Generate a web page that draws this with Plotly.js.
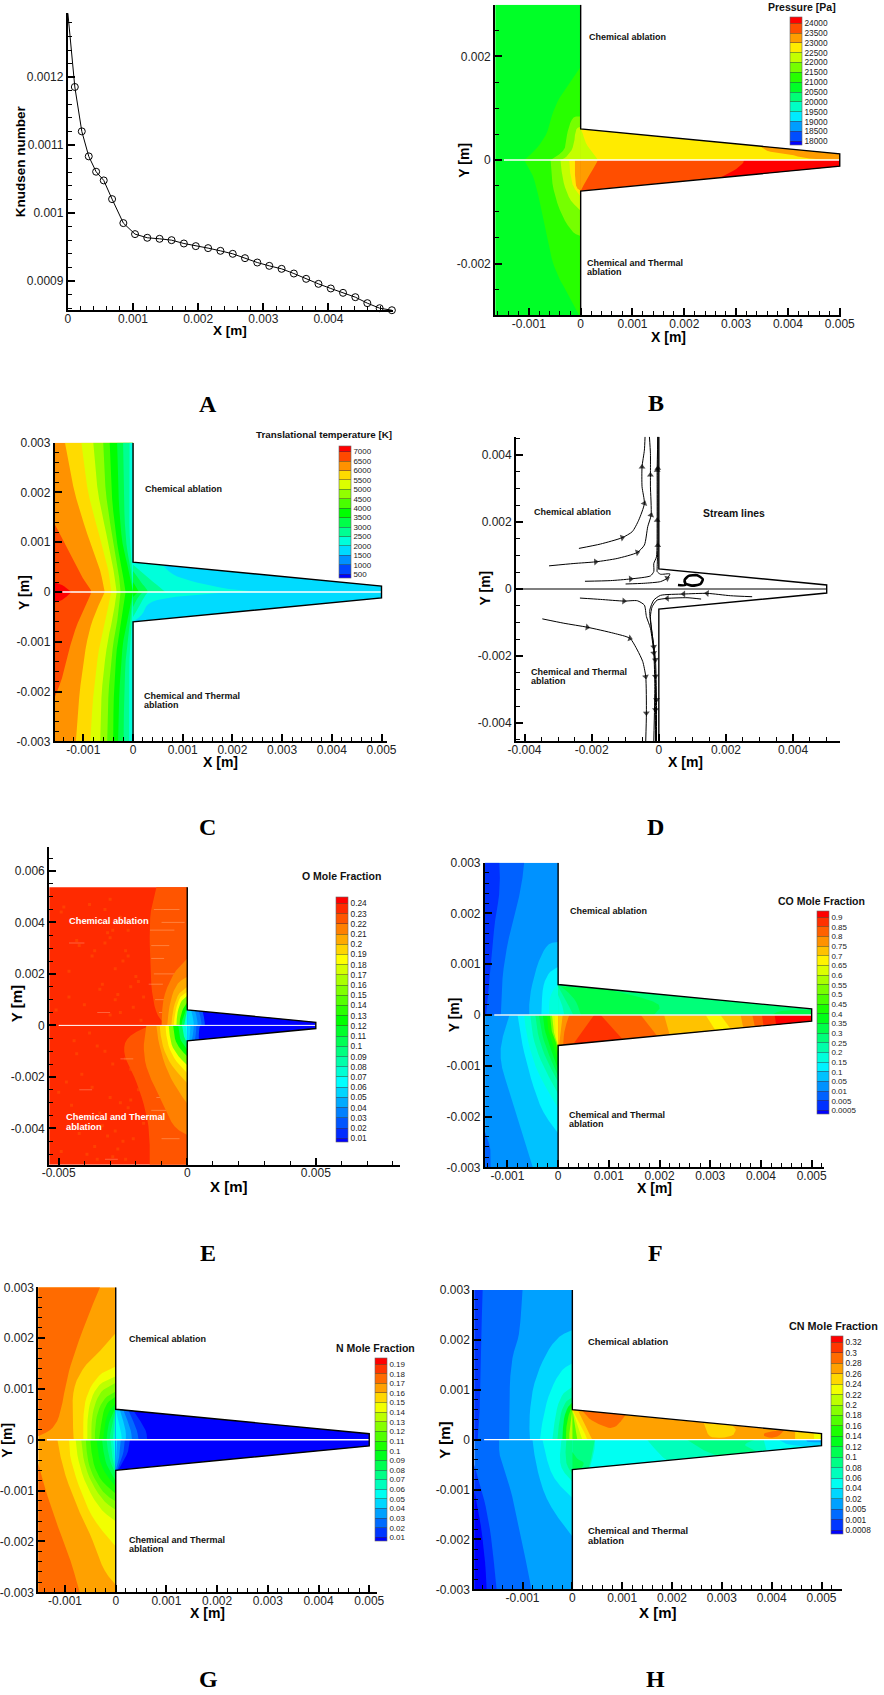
<!DOCTYPE html>
<html><head><meta charset="utf-8">
<script src="https://cdn.plot.ly/plotly-3.0.1.min.js"></script>
<style>html,body{margin:0;padding:0;background:#fff}#g{width:884px;height:1695px}</style></head>
<body><div id="g"></div>
<script>
// ---------- Data (lengths in mm unless stated; converted to metres when plotted) ----------
const knudsenX=[0,.107,.214,.321,.434,.551,.679,.852,1.031,1.219,1.408,1.592,1.781,1.964,2.153,2.342,2.531,2.719,2.908,3.092,3.281,3.469,3.658,3.847,4.036,4.224,4.413,4.597,4.786,4.974];
const knudsenY=[1.2946,1.1856,1.1203,1.0835,1.0609,1.0481,1.0206,.9853,.9691,.9637,.9622,.9602,.9553,.9514,.9485,.9445,.9401,.9337,.9273,.9224,.918,.9111,.9033,.8959,.8891,.8827,.8763,.8675,.8601,.8571];

const pressureLabels=['24000','23500','23000','22500','22000','21500','21000','20500','20000','19500','19000','18500','18000'];
const temperatureLabels=['7000','6500','6000','5500','5000','4500','4000','3500','3000','2500','2000','1500','1000','500'];
const oLabels=['0.24','0.23','0.22','0.21','0.2','0.19','0.18','0.17','0.16','0.15','0.14','0.13','0.12','0.11','0.1','0.09','0.08','0.07','0.06','0.05','0.04','0.03','0.02','0.01'];
const coLabels=['0.9','0.85','0.8','0.75','0.7','0.65','0.6','0.55','0.5','0.45','0.4','0.35','0.3','0.25','0.2','0.15','0.1','0.05','0.01','0.005','0.0005'];
const nLabels=['0.19','0.18','0.17','0.16','0.15','0.14','0.13','0.12','0.11','0.1','0.09','0.08','0.07','0.06','0.05','0.04','0.03','0.02','0.01'];
const cnLabels=['0.32','0.3','0.28','0.26','0.24','0.22','0.2','0.18','0.16','0.14','0.12','0.1','0.08','0.06','0.04','0.02','0.005','0.001','0.0008'];

// Contour regions: [level band, [x,y, x,y, ...]] in painting order
const pressureRegions=[
[6,[-1.65,3,0,3,0,-3,-1.65,-3]],
[7,[0,1.8,-.16,1.57,-.39,1.25,-.55,.9,-.64,.51,-.87,.19,-1.09,0,-.9,-.32,-.77,-.9,-.64,-1.54,-.51,-2.12,-.22,-2.63,-.03,-3,0,-3]],
[8,[0,.84,-.16,.84,-.27,.51,-.29,.19,-.58,0,-.55,-.51,-.39,-1.03,-.16,-1.41,0,-1.47]],
[9,[0,.64,-.1,.61,-.13,.26,-.26,.06,-.39,0,-.35,-.39,-.22,-.77,0,-.98]],
[10,[0,0,-.22,0,-.19,-.45,0,-.71]],
[11,[0,0,-.11,0,-.11,-.51,0,-.6]],
[10,[0,0,0,.6,5,.12,5,0]],
[9,[0,.6,.03,.55,.1,.3,.3,.05,.33,0,0,0]],
[11,[3.45,.27,3.6,.16,4,.13,4.3,.03,5,0,5,.12]],
[12,[0,0,0,-.6,5,-.12,5,0]],
[11,[0,0,.33,0,.3,-.08,.1,-.4,0,-.6]],
[13,[3.15,0,3.15,-.05,2.99,-.19,2.7,-.34,5,-.12,5,0]]];

const temperatureY=[3,2,1,.5,0,-.5,-1,-2,-3];
const temperatureCurves=[
[11,[-1.37,-1.19,-.87,-.67,-.57,-.8,-.94,-1.08,-1.15]],
[10,[-1.04,-.92,-.64,-.5,-.44,-.54,-.67,-.8,-.86]],
[9,[-.8,-.72,-.5,-.4,-.33,-.4,-.52,-.64,-.66]],
[8,[-.6,-.56,-.4,-.3,-.25,-.3,-.4,-.5,-.52]],
[7,[-.47,-.44,-.33,-.23,-.15,-.23,-.32,-.39,-.4]],
[6,[-.32,-.3,-.23,-.1,0,-.1,-.21,-.28,-.3]],
[5,[-.2,-.19,-.15,-.05,0,-.05,-.13,-.18,-.19]],
[4,[-.07,-.08,-.07,-.02,0,-.02,-.07,-.08,-.08]]];
const temperatureRegions=[
[12,[-1.57,3,0,3,0,-3,-1.57,-3]],
[13,[-1.57,1.35,-1.41,1.04,-1.24,.71,-1.04,.31,-.84,.04,-.84,-.03,-1.04,-.43,-1.24,-.96,-1.41,-1.7,-1.57,-2.1]],
[14,[-1.57,.19,-1.41,.14,-1.24,0,-1.41,-.16,-1.57,-.21]]];
const temperatureWedge=[
[3,[0,.6,5,.12,5,-.12,0,-.6]],
[4,[0,.6,.6,.54,.8,.33,1.34,.17,2,.04,2.78,0,0,0]],
[5,[0,.55,.27,.31,.6,.05,.65,0,0,0]],
[6,[0,.42,.15,.2,.27,.07,.3,0,0,0]],
[7,[0,.2,.1,.05,.12,0,0,0]],
[4,[0,0,2,0,1.3,-.05,.8,-.1,.3,-.2,.2,-.45,0,-.6]],
[5,[0,0,.3,0,.22,-.1,.12,-.3,0,-.5]],
[6,[0,0,.2,0,.1,-.1,0,-.3]],
[7,[0,0,.1,0,0,-.1]]];

const oxygenRegions=[
[23,[-5.37,5.37,0,5.37,0,-5.41,-5.37,-5.41]],
[22,[-1.2,5.37,-1.46,4.35,-1.46,2.93,-1.4,1.37,-1.2,.4,-.82,0,-1.46,0,-2.37,-.44,-2.5,-1.09,-2.11,-1.86,-1.72,-2.9,-1.46,-4.06,-1.46,-5.41,0,-5.41,0,5.37]],
[21,[0,2.6,-.5,2.1,-.95,1.1,-1,0,-1.59,0,-1.72,-.83,-1.59,-1.73,-1.07,-2.77,-.56,-3.94,0,-4.26]],
[20,[0,1.89,-.43,1.63,-.69,.85,-.78,0,-1.2,0,-1.14,-.57,-.82,-1.73,-.3,-2.64,0,-3.03]],
[19,[0,1.5,-.36,1.24,-.56,.6,-.62,0,-1.07,0,-1,-.7,-.69,-1.48,0,-2.25]],
[18,[0,1.31,-.3,1.11,-.47,.53,-.53,0,-.85,0,-.78,-.7,-.49,-1.35,0,-1.86]],
[15,[0,1.15,-.25,.95,-.4,.45,-.42,0,-.72,0,-.65,-.7,-.4,-1.15,0,-1.55]],
[12,[0,.9,-.15,.7,-.28,.3,-.3,0,-.55,0,-.48,-.6,-.25,-.95,0,-1.2]],
[10,[0,.75,-.1,.5,-.2,.2,-.22,0,-.35,0,-.3,-.5,-.15,-.75,0,-.95]],
[7,[0,.65,-.05,.4,-.1,.1,-.12,0,-.2,0,-.15,-.4,0,-.7]],
[6,[0,.6,-.03,0,-.06,0,0,-.6]],
[0,[0,.6,5,.12,5,-.12,0,-.6]],
[2,[0,.6,.6,.54,.68,.2,.68,0,.5,0,.45,-.2,.45,-.56,0,-.6]],
[3,[0,.6,.45,.55,.55,.2,.55,0,.35,0,.35,-.2,.3,-.57,0,-.6]],
[4,[0,.6,.3,.57,.4,.2,.4,0,.25,0,.25,-.2,.18,-.58,0,-.6]],
[5,[0,.6,.15,.58,.25,.2,.25,0,.12,0,.12,-.2,.08,-.59,0,-.6]]];
// Lighter mottling in the O field and faint horizontal streaks near the wall
const oxygenSpeckleX=[-3.1,-3.0,-3.2,-2.9,-2.4,-2.3,-2.5,-3.6,-3.7,-4.2,-4.3,-4.8,-4.9,-2.0,-1.9,-2.2,-3.3,-3.4,-2.7,-2.8,-4.0,-4.6,-5.1,-3.0,-2.6,-2.1,-1.7,-3.8,-4.4,-3.5,-3.2,-2.4,-2.9,-2.2,-1.8,-4.1,-4.7,-5.0,-3.7,-3.0,-2.6,-2.3,-3.4,-4.5,-2.0,-1.7,-2.8,-3.1,-2.5,-4.2,-3.6,-4.9,-3.9,-3.3,-2.7,-2.1,-2.9,-3.5,-2.4,-4.3,-1.9,-2.2,-3.0,-3.8,-4.6,-2.6,-3.2,-2.8,-2.3,-1.8];
const oxygenSpeckleY=[3.6,3.4,3.2,3.7,2.9,2.7,2.5,2.9,2.7,3.1,3.3,4.6,4.4,1.9,1.7,1.5,1.6,1.4,1.2,1,.8,1.1,.6,.4,.5,.7,1.1,-.3,-.6,-.8,-1,-1.3,-1.5,-1.7,-2,-1.9,-2.2,-2.6,-2.4,-2.8,-3,-3.2,-3.4,-3.1,-3.6,-3.8,-4.1,-4.3,-4.5,-4.2,-4.7,-4.9,-5,-3.9,-4.8,-4.4,-5.1,-5.2,-5.2,-1.1,-2.5,-2.9,4.9,4.7,2.1,4.2,4.5,2.2,3.7,.2];
const oxygenStreakX=[-1.3,-.3,null,-1.0,-.1,null,-1.45,-.5,null,-1.4,-.7,null,-1.4,-.9,null,-1.3,-.3,null,-1.5,-.95,null,-1.25,-.35,null,-1.1,-.4,null,-1.3,-.7,null,-4.6,-4.0,null,-3.5,-3.0,null,-1.5,-.8,null,-1.35,-.6,null,-.9,-.1,null,-1.2,-.4,null,-1.4,-.8,null,-1.0,-.3,null,-4.2,-3.7,null,-2.6,-2.1,null,-3.2,-2.7];
const oxygenStreakY=[4.5,4.5,null,4.0,4.0,null,3.7,3.7,null,3.1,3.1,null,2.6,2.6,null,2.0,2.0,null,1.6,1.6,null,1.0,1.0,null,.5,.5,null,-.1,-.1,null,3.2,3.2,null,.5,.5,null,-1.1,-1.1,null,-1.6,-1.6,null,-2.2,-2.2,null,-2.8,-2.8,null,-3.3,-3.3,null,-4.4,-4.4,null,-2.5,-2.5,null,-1.3,-1.3,null,-5.2,-5.2];

const coRegions=[
[3,[-1.44,3,0,3,0,-3,-1.44,-3]],
[2,[-1.44,3,-.67,3,-.73,2.46,-.96,1.61,-1.1,.82,-1.13,0,-1.44,0]],
[1,[-1.44,3,-1.16,3,-1.14,2.46,-1.26,1.8,-1.33,.82,-1.42,0,-1.44,0]],
[2,[-1.44,-2.3,-1.33,-2.6,-1.33,-3,-1.44,-3]],
[4,[0,1.44,-.21,1.41,-.41,1.02,-.57,.36,-.57,0,-.96,0,-1.19,-.75,-.96,-1.54,-.77,-2.13,-.5,-3,0,-3]],
[5,[0,.95,-.18,.85,-.31,.56,-.33,0,-.8,0,-.73,-.49,-.57,-1.15,-.34,-1.87,0,-2.33]],
[6,[0,.6,-.1,.5,-.18,.3,-.18,0,-.67,0,-.62,-.43,-.44,-1.08,0,-1.84]],
[7,[-.55,0,-.5,-.45,-.33,-.95,0,-1.55,0,0]],
[8,[-.45,0,-.4,-.4,-.25,-.85,0,-1.32,0,0]],
[9,[-.38,0,-.33,-.35,-.2,-.75,0,-1.2,0,0]],
[10,[-.3,0,-.27,-.3,-.15,-.65,0,-1.08,0,0]],
[11,[-.22,0,-.2,-.3,-.1,-.55,0,-.9,0,0]],
[13,[-.16,0,-.14,-.3,-.05,-.5,0,-.75,0,0]],
[15,[-.12,0,-.1,-.3,0,-.62,0,0]],
[16,[-.07,0,-.05,-.4,0,-.6,0,0]],
[8,[0,0,0,.6,5,.12,5,0]],
[9,[.15,0,0,.56,1,.5,2.09,.23,1.89,0]],
[9,[4.2,0,4.4,.1,5,.1,5,0]],
[8,[0,.6,.12,.52,.35,.3,.45,0,0,0]],
[7,[0,.56,.15,.3,.3,0,0,0]],
[6,[0,.4,.08,.2,.12,0,0,0]],
[19,[0,0,0,-.6,5,-.12,5,0]],
[20,[.71,0,.84,0,1.27,-.48,.3,-.57]],
[18,[1.63,0,1.95,-.41,5,-.12,5,0]],
[17,[2.09,0,2.2,-.39,5,-.12,5,0]],
[16,[2.91,0,3.1,-.3,3.4,-.27,3.2,0]],
[18,[3.6,0,3.65,-.25,5,-.12,5,0]],
[19,[3.83,0,3.88,-.23,5,-.12,5,0]],
[20,[4.02,0,4.05,-.21,5,-.12,5,0]],
[21,[4.27,0,4.3,-.19,5,-.12,5,0]],
[18,[0,0,.22,0,.12,-.3,.1,-.59,0,-.6]],
[17,[0,0,.09,0,.02,-.59,0,-.6]]];

const nitrogenRegions=[
[16,[-1.53,3,0,3,0,-3,-1.53,-3]],
[17,[-1.53,3,-.31,3,-.55,2.43,-.84,1.64,-.97,1.18,-1.1,.46,-1.25,.2,-1.53,.07]],
[17,[-1.53,-.46,-1.43,-.85,-1.17,-1.64,-.91,-2.3,-.71,-3,-1.53,-3]],
[15,[0,2.1,-.25,1.8,-.64,1.44,-.85,1,-.85,.4,-.83,0,-1.15,0,-1.04,-.59,-.74,-1.38,-.48,-1.9,-.25,-2.56,0,-2.85]],
[14,[0,1.44,-.31,1.31,-.54,.98,-.64,.59,-.64,0,-.92,0,-.91,-.33,-.71,-.98,-.45,-1.57,0,-2.1]],
[13,[0,1.25,-.31,1.12,-.48,.85,-.56,.46,-.56,0,-.79,0,-.76,-.33,-.61,-.85,-.31,-1.38,0,-1.6]],
[12,[0,1.12,-.28,.98,-.41,.72,-.48,.39,-.48,0,-.68,0,-.64,-.39,-.51,-.79,-.25,-1.21,0,-1.38]],
[11,[0,.95,-.2,.85,-.35,.59,-.41,.26,-.41,0,-.59,0,-.56,-.39,-.45,-.72,-.22,-1.08,0,-1.21]],
[10,[0,.85,-.16,.75,-.26,.52,-.33,0,-.5,0,-.46,-.43,-.31,-.79,0,-1.06]],
[9,[0,.72,-.1,.62,-.2,.42,-.25,0,-.38,0,-.33,-.4,-.2,-.68,0,-.92]],
[8,[0,.65,-.07,.5,-.15,.3,-.18,0,-.27,0,-.22,-.4,-.1,-.65,0,-.8]],
[7,[0,.62,-.1,.2,-.12,0,-.18,0,-.14,-.35,0,-.68]],
[6,[0,.6,-.04,.2,-.06,0,-.1,0,-.08,-.3,0,-.62]],
[5,[0,.6,-.01,.1,-.02,0,-.05,0,-.03,-.3,0,-.6]],
[0,[0,.6,5,.12,5,-.12,0,-.6]],
[1,[0,.6,.35,.57,.6,.2,.62,0,.28,0,.25,-.25,.05,-.6,0,-.6]],
[2,[0,.6,.25,.58,.42,.2,.45,0,.18,0,.16,-.25,.03,-.6,0,-.6]],
[3,[0,.6,.15,.59,.3,.2,.32,0,.1,0,.08,-.3,0,-.6]],
[4,[0,.6,.08,.59,.2,.2,.2,0,.03,0,0,-.5]],
[5,[0,.6,.1,.2,.12,0,0,0]]];

const cnRegions=[
[2,[-1.97,3,0,3,0,-3,-1.97,-3]],
[1,[-1.97,3,-1.8,3,-1.83,2,-1.83,1,-1.9,0,-1.97,0]],
[1,[-1.97,-.5,-1.85,-.9,-1.72,-1.4,-1.62,-2,-1.52,-3,-1.97,-3]],
[0,[-1.97,-1,-1.85,-1.6,-1.75,-2.4,-1.72,-3,-1.97,-3]],
[3,[-1,3,0,3,0,-3,-.82,-3,-1.03,-1.94,-1.23,-1,-1.47,-.34,-1.47,0,-1.27,0,-1.27,.73,-1.23,1.6,-1.07,2.06,-1.03,2.53]],
[4,[0,2.2,-.3,2.06,-.57,1.66,-.8,1.06,-.87,.39,-.85,0,-.8,0,-.73,-.54,-.5,-1.28,0,-1.94]],
[5,[0,1.53,-.23,1.4,-.47,.93,-.6,.39,-.65,0,-.6,0,-.43,-.74,0,-1.17]],
[6,[0,1.06,-.2,.93,-.33,.59,-.4,0,-.22,0,-.27,-.54,0,-.84]],
[7,[0,.85,-.13,.78,-.25,.5,-.3,0,-.12,0,-.15,-.45,0,-.7]],
[9,[0,.75,-.1,.65,-.18,.4,-.2,0,0,0]],
[11,[0,.68,-.06,.55,-.12,.3,-.13,0,0,0]],
[13,[0,.62,-.02,.45,-.06,.2,-.06,0,0,0]],
[16,[0,0,0,.6,5,.12,5,0]],
[15,[0,.6,.12,.57,.3,.2,.4,0,0,0]],
[14,[0,.6,.22,.2,.3,0,0,0]],
[13,[0,.6,.14,.2,.2,0,0,0]],
[11,[0,.6,.07,.2,.1,0,0,0]],
[17,[.2,.58,.35,.4,.55,.3,.75,.22,.9,.27,1.07,.5]],
[15,[2.64,.33,2.7,.13,2.8,.03,3.2,.05,3.3,.2,3.2,.29]],
[17,[3.84,.15,3.85,.05,4.1,.03,4.25,.19]],
[15,[4.47,.17,4.47,0,5,0,5,.12]],
[14,[4.85,.13,5,.12,5,0,4.85,0]],
[6,[0,0,0,-.6,5,-.12,5,0]],
[5,[.45,0,1.5,0,1.75,-.3,1.9,-.42,.35,-.567,.45,-.2]],
[7,[0,-.6,.33,-.57,.42,-.2,.45,0,0,0]],
[8,[0,-.25,.1,-.4,.25,-.45,.18,-.58,0,-.6]],
[7,[2.3,0,2.6,-.2,2.9,-.32,3.7,-.24,3.4,-.1,3.67,0]],
[5,[3.84,0,3.9,-.226,5,-.12,5,0]],
[4,[4.14,0,4.3,-.1,4.6,-.13,5,-.12,5,0]],
[3,[4.7,0,4.7,-.05,5,-.05,5,0]]];

// Stream lines: [x,y, ...] and indices of the points that carry an arrow head
const streamLines=[
[[-2.38,1.21,-1.74,1.34,-1.09,1.53,-.79,1.71,-.6,2.05,-.43,2.55,-.5,3.05,-.5,3.64,-.43,4.14,-.41,4.54],[2,5,7]],
[[-3.27,.69,-2.53,.76,-1.88,.81,-1.24,.91,-.64,1.09,-.43,1.31,-.33,1.86,-.23,2.2,-.25,3.05,-.25,3.4,-.25,4.04,-.28,4.54],[2,4,7,9]],
[[-2.2,.23,-1.44,.25,-.84,.3,-.25,.39,-.15,.52,-.15,.76,-.07,.96,-.05,2.05,-.05,3.2,-.05,3.54,-.03,4.54],[2,7,9]],
[[-.99,.15,-.45,.17,.05,.22,.25,.32,.33,.45,.05,.44,-.05,.52,-.05,.62,-.03,1.3,-.03,2.05,-.03,3.6,-.03,4.54],[3,8,10]],
[[.57,.12,.79,.12,.77,.27,.89,.39,1.14,.41,1.31,.29,1.24,.15,.99,.1,.79,.17,.77,.27,.89,.39,1.14,.41,1.31,.29,1.24,.15,.99,.1],[]],
[[-2.35,-.27,-1.74,-.31,-1.04,-.36,-.64,-.35,-.43,-.48,-.37,-.82,-.25,-1.17,-.15,-1.91,-.12,-2.91,-.15,-4.54],[2,7]],
[[-3.47,-.89,-2.83,-1.02,-2.13,-1.14,-1.34,-1.32,-.86,-1.47,-.64,-1.82,-.48,-2.16,-.39,-2.61,-.37,-3.7,-.39,-4.54],[2,4,7,8]],
[[2.78,-.23,2.13,-.2,1.44,-.13,.74,-.15,.05,-.19,-.15,-.33,-.27,-.63,-.23,-1.12,-.15,-1.72,-.1,-2.6,-.1,-3.6,-.1,-4.54],[2,3,8,9,10]],
[[1.26,-.3,.84,-.26,.25,-.28,-.05,-.33,-.2,-.53,-.25,-.82,-.2,-1.32,-.1,-2.11,-.07,-3.3,-.07,-4.54],[2,7,8]]];

// ---------- Page geometry in pixels: left, right, top, bottom ----------
const P=884,Q=1695;
const dom=(l,r,t,b)=>({x:[l/P,r/P],y:[1-b/Q,1-t/Q]});
const M=1e-3;
const majorLabel=v=>v===0?'0':String(+(v).toFixed(4));
const xTicks=[-.001,0,.001,.002,.003,.004,.005],yTicks=[.003,.002,.001,0,-.001,-.002,-.003];
const panelCfg=[
{k:'',box:[68,393.5,13.3,310.3],xr:[0,4.985],yr:[.857,1.294],xt:[0,.001,.002,.003,.004],yt:[.0012,.0011,.001,.0009],xm:.0002,ym:.00002,yTitle:'Knudsen number',fx:13.5,fy:13.5,xp:[230.7,330.7],yp:[20.7,161.7]},
{k:'2',box:[496.3,843,4.7,315.3],xr:[-1.65,5.026],yr:[-3,3],xt:xTicks,yt:[.002,0,-.002],xm:.0002,ym:.0005,fx:14,fy:14,xp:[670,337],yp:[464.7,160]},
{k:'3',box:[55,387.7,442.7,741.3],xr:[-1.573,5.107],yr:[-3,3],xt:xTicks,yt:yTicks,xm:.0002,ym:.0002,fx:14,fy:14,xp:[221.3,762.3],yp:[24,592]},
{k:'4',box:[517.3,841.7,436.7,741.3],xr:[-4.25,5.39],yr:[-4.54,4.54],xt:[-.004,-.002,0,.002,.004],yt:[.004,.002,0,-.002,-.004],xm:.0005,ym:.0005,fx:14,fy:14,xp:[687,762.3],yp:[486.3,588.3]},
{k:'5',box:[49.3,401.3,846.7,1164.7],xr:[-5.37,8.29],yr:[-5.41,6.94],xt:[-.005,0,.005],yt:[.006,.004,.002,0,-.002,-.004],xm:.001,ym:.0005,fx:15,fy:15,xp:[229.7,1186.7],yp:[16,1003.3]},
{k:'6',box:[486,825.7,862.7,1167.3],xr:[-1.444,5.24],yr:[-3,3],xt:xTicks,yt:yTicks,xm:.0002,ym:.0002,fx:14,fy:14,xp:[656,1188.3],yp:[455.3,1015]},
{k:'7',box:[38.3,377.7,1287.3,1592.3],xr:[-1.529,5.15],yr:[-3,3],xt:xTicks,yt:yTicks,xm:.0002,ym:.0002,fx:14,fy:14,xp:[208,1613.3],yp:[6.7,1440]},
{k:'8',box:[475.3,843.7,1290,1589.3],xr:[-1.969,5.407],yr:[-3,3],xt:xTicks,yt:yTicks,xm:.0002,ym:.0002,fx:15,fy:15,xp:[659.3,1612.3],yp:[444.7,1440]}];

const layout={width:P,height:Q,margin:{l:0,r:0,t:0,b:0},paper_bgcolor:'#fff',plot_bgcolor:'#fff',showlegend:false,
  font:{family:'"Liberation Sans",Arial,sans-serif',color:'#111',size:12},annotations:[]};
function note(x,y,text,size,color,anchor,angle){layout.annotations.push({xref:'paper',yref:'paper',x:x/P,y:1-y/Q,xanchor:anchor||'left',yanchor:'middle',text:text,showarrow:false,textangle:angle||0,font:{size:size,color:color||'#111'}})}
panelCfg.forEach(c=>{
  const d=dom(...c.box);
  const common={showgrid:false,zeroline:false,showline:true,linecolor:'#000',linewidth:2,ticks:'inside',ticklen:7,tickwidth:2,tickcolor:'#000',
    tickmode:'array',tickfont:{size:12,color:'#222'},fixedrange:true,automargin:false};
  layout['xaxis'+c.k]=Object.assign({},common,{domain:d.x,range:c.xr.map(v=>v*M),anchor:'y'+c.k,tickvals:c.xt,ticktext:c.xt.map(majorLabel),ticklabelstandoff:-4,
    minor:{ticks:'inside',ticklen:4,tickwidth:1,tickcolor:'#000',tick0:0,dtick:c.xm,showgrid:false}});
  layout['yaxis'+c.k]=Object.assign({},common,{domain:d.y,range:c.yr.map(v=>v*M),anchor:'x'+c.k,tickvals:c.yt,ticktext:c.yt.map(majorLabel),
    minor:{ticks:'inside',ticklen:4,tickwidth:1,tickcolor:'#000',tick0:0,dtick:c.ym,showgrid:false}});
  // Axis titles sit over the tick-label column in the reference, so they are placed as annotations
  note(c.xp[0],c.xp[1],'<b>X [m]</b>',c.fx,'#000','center');
  note(c.yp[0],c.yp[1],'<b>'+(c.yTitle||'Y [m]')+'</b>',c.fy,'#000','center',-90);
});

// Level colours (rainbow palette)
function bandColor(k,n){const t=k/n;let r,g,b;
  if(t<.25){r=0;g=t/.25;b=1}else if(t<.5){r=0;g=1;b=1-(t-.25)/.25}else if(t<.75){r=(t-.5)/.25;g=1;b=0}else{r=1;g=1-(t-.75)/.25;b=0}
  return `rgb(${Math.round(r*255)},${Math.round(g*255)},${Math.round(b*255)})`}

// Rounds the corners of a contour outline; vertices on the wall, centre line, domain edge or wedge edge stay put
function rounded(xs,ys,edge,top){
  let pts=xs.map((x,i)=>{const y=ys[i];
    const onWedge=x>0&&Math.abs(Math.abs(y)-(.6-.096*x))<.035;
    return {x,y,fix:x===0||y===0||x===5||x<=edge+1e-6||Math.abs(y)>=top-1e-6||onWedge}});
  for(let it=0;it<2;it++){const out=[],n=pts.length;
    pts.forEach((p,i)=>{if(p.fix){out.push(p);return}
      const a=pts[(i-1+n)%n],b=pts[(i+1)%n];
      out.push({x:p.x+.25*(a.x-p.x),y:p.y+.25*(a.y-p.y),fix:false},{x:p.x+.25*(b.x-p.x),y:p.y+.25*(b.y-p.y),fix:false})});
    pts=out}
  return pts}

const traces=[];
function addRegion(k,band,flat,n,edge,top){const xs=[],ys=[];for(let i=0;i<flat.length;i+=2){xs.push(flat[i]);ys.push(flat[i+1])}
  const p=rounded(xs,ys,edge,top);
  traces.push({type:'scatter',mode:'lines',x:p.map(q=>q.x*M),y:p.map(q=>q.y*M),xaxis:'x'+k,yaxis:'y'+k,fill:'toself',fillcolor:bandColor(band,n),line:{width:0},hoverinfo:'skip'})}
function addOutline(k,h){traces.push({type:'scatter',mode:'lines',x:[0,0,5,5,0,0].map(v=>v*M),y:[h,.6,.12,-.12,-.6,-h].map(v=>v*M),xaxis:'x'+k,yaxis:'y'+k,line:{color:'#000',width:1.4},hoverinfo:'skip'})}
function addCentre(k,x0,color,w){traces.push({type:'scatter',mode:'lines',x:[x0*M,5*M],y:[0,0],xaxis:'x'+k,yaxis:'y'+k,line:{color:color,width:w},hoverinfo:'skip'})}
function addBar(k,labels,b,titleText,titleX,titleY,labelSize,titleSize){
  const N=labels.length,f=.4,g=.6,scale=[];
  for(let c=0;c<=N;c++){const lo=(Math.max(c-1,-f)+f)/(N-1+f+g),hi=(Math.min(c,N-1+g)+f)/(N-1+f+g),col=bandColor(c,N);scale.push([lo,col],[hi,col])}
  traces.push({type:'scatter',mode:'markers',x:[null],y:[null],xaxis:'x'+k,yaxis:'y'+k,hoverinfo:'skip',
    marker:{color:[0],cmin:-f,cmax:N-1+g,colorscale:scale,showscale:true,size:1,
      colorbar:{x:b[0]/P,xanchor:'left',xref:'paper',y:1-b[1]/Q,yanchor:'top',yref:'paper',len:b[2]-b[1],lenmode:'pixels',thickness:12,thicknessmode:'pixels',
        xpad:0,ypad:0,outlinewidth:.6,outlinecolor:'#666',borderwidth:0,ticks:'inside',ticklen:12,tickwidth:.7,tickcolor:'rgba(60,60,60,.7)',
        tickmode:'array',tickvals:labels.map((_,i)=>N-1-i),ticktext:labels,tickprefix:'\u00a0\u00a0',tickfont:{size:labelSize,color:'#222'}}}});
  note(titleX,titleY,'<b>'+titleText+'</b>',titleSize,'#111');
}

// A — Knudsen number
traces.push({type:'scatter',mode:'lines+markers',x:knudsenX.map(v=>v*M),y:knudsenY.map(v=>v*M),cliponaxis:false,hoverinfo:'skip',
  line:{color:'#000',width:1},marker:{symbol:'circle-open',size:7,color:'#000',line:{color:'#000',width:1}}});

// B — Pressure
pressureRegions.forEach(r=>addRegion('2',r[0],r[1],13,-1.65,3));addCentre('2',-1.48,'#fff',1.4);addOutline('2',3);
addBar('2',pressureLabels,[791.5,17.3,145.3],'Pressure [Pa]',767.7,7.3,8.3,10.5);

// C — Translational temperature
temperatureRegions.forEach(r=>addRegion('3',r[0],r[1],14,-1.57,3));
temperatureCurves.forEach(c=>{const f=[];c[1].forEach((x,i)=>f.push(x,temperatureY[i]));f.push(0,-3,0,3);addRegion('3',c[0],f,14,-1.57,3)});
temperatureWedge.forEach(r=>addRegion('3',r[0],r[1],14,-1.57,3));addCentre('3',-1.42,'#fff',1.4);addOutline('3',3);
addBar('3',temperatureLabels,[339.3,446,578],'Translational temperature [K]',254.7,435,8,9.8);

// D — Stream lines
addCentre('4',-4.12,'#000',1.2);addOutline('4',4.54);
streamLines.forEach((s,idx)=>{const xs=[],ys=[],sz=[];for(let i=0;i<s[0].length;i+=2){xs.push(s[0][i]*M);ys.push(s[0][i+1]*M);sz.push(s[1].includes(i/2)?6:0)}
  traces.push({type:'scatter',mode:'lines+markers',x:xs,y:ys,xaxis:'x4',yaxis:'y4',hoverinfo:'skip',line:{color:'#000',width:idx===4?2.6:1,shape:'spline',smoothing:.6},
    marker:{symbol:'triangle-up',size:sz,color:'#000',angleref:'previous',line:{width:0}}})});

// E — O mole fraction
oxygenRegions.slice(0,2).forEach(r=>addRegion('5',r[0],r[1],24,-5.37,5.37));
traces.push({type:'scatter',mode:'markers',x:oxygenSpeckleX.map(v=>v*M),y:oxygenSpeckleY.map(v=>v*M),xaxis:'x5',yaxis:'y5',hoverinfo:'skip',
  marker:{symbol:'square',size:3,color:bandColor(22,24),opacity:.5,line:{width:0}}});
traces.push({type:'scatter',mode:'lines',x:oxygenStreakX.map(v=>v===null?null:v*M),y:oxygenStreakY.map(v=>v===null?null:v*M),xaxis:'x5',yaxis:'y5',hoverinfo:'skip',
  line:{color:'rgba(255,225,190,.45)',width:.7},connectgaps:false});
oxygenRegions.slice(2).forEach(r=>addRegion('5',r[0],r[1],24,-5.37,5.37));addCentre('5',-5,'#fff',1);addOutline('5',5.37);
addBar('5',oLabels,[336.7,897.3,1142.3],'O Mole Fraction',301,875.7,8.4,10.5);

// F — CO mole fraction
coRegions.forEach(r=>addRegion('6',r[0],r[1],21,-1.44,3));addCentre('6',-1.26,'#e8f0f4',1.4);addOutline('6',3);
addBar('6',coLabels,[819,911.3,1114],'CO Mole Fraction',778,900.7,8,10.5);

// G — N mole fraction
nitrogenRegions.forEach(r=>addRegion('7',r[0],r[1],19,-1.53,3));addCentre('7',-1.36,'#fff',1.4);addOutline('7',3);
addBar('7',nLabels,[375.7,1358.3,1541.7],'N Mole Fraction',334.3,1348,8,10.5);

// H — CN mole fraction
cnRegions.forEach(r=>addRegion('8',r[0],r[1],19,-1.97,3));addCentre('8',-1.77,'#fff',1.4);addOutline('8',3);
addBar('8',cnLabels,[832.7,1336.3,1534.3],'CN Mole Fraction',788.7,1325.7,8.3,10.8);

// Region notes
[[588,37,263,272.3,586.7,9],[143.7,489.3,696.3,705.3,142.3,9],[533.7,511.7,671.7,681,530,9],[67,920.7,1116.7,1126.7,64,9.3],[569.7,911.3,1115,1124,568.7,9],[127,1339,1540,1549.3,127.3,9],[587.7,1341,1530.7,1540.7,587.7,9.4]].forEach((n,i)=>{
  const col=i===3?'#fff':'#111';
  note(n[0],n[1],'<b>Chemical ablation</b>',n[5],col);
  note(n[4],n[2],'<b>Chemical and Thermal</b>',n[5],col);
  note(n[4],n[3],'<b>ablation</b>',n[5],col);
});
note(702.7,513.3,'<b>Stream lines</b>',10.4,'#111');

// Panel letters
[['A',208,404],['B',657,403],['C',208,827],['D',657,827],['E',208,1253],['F',657,1253],['G',209,1679],['H',657,1679]].forEach(l=>{
  layout.annotations.push({xref:'paper',yref:'paper',x:l[1]/P,y:1-l[2]/Q,xanchor:'center',yanchor:'middle',showarrow:false,text:'<b>'+l[0]+'</b>',font:{family:'"Liberation Serif",serif',size:24,color:'#000'}});
});

Plotly.newPlot('g',traces,layout,{staticPlot:true,displayModeBar:false});
</script></body></html>
